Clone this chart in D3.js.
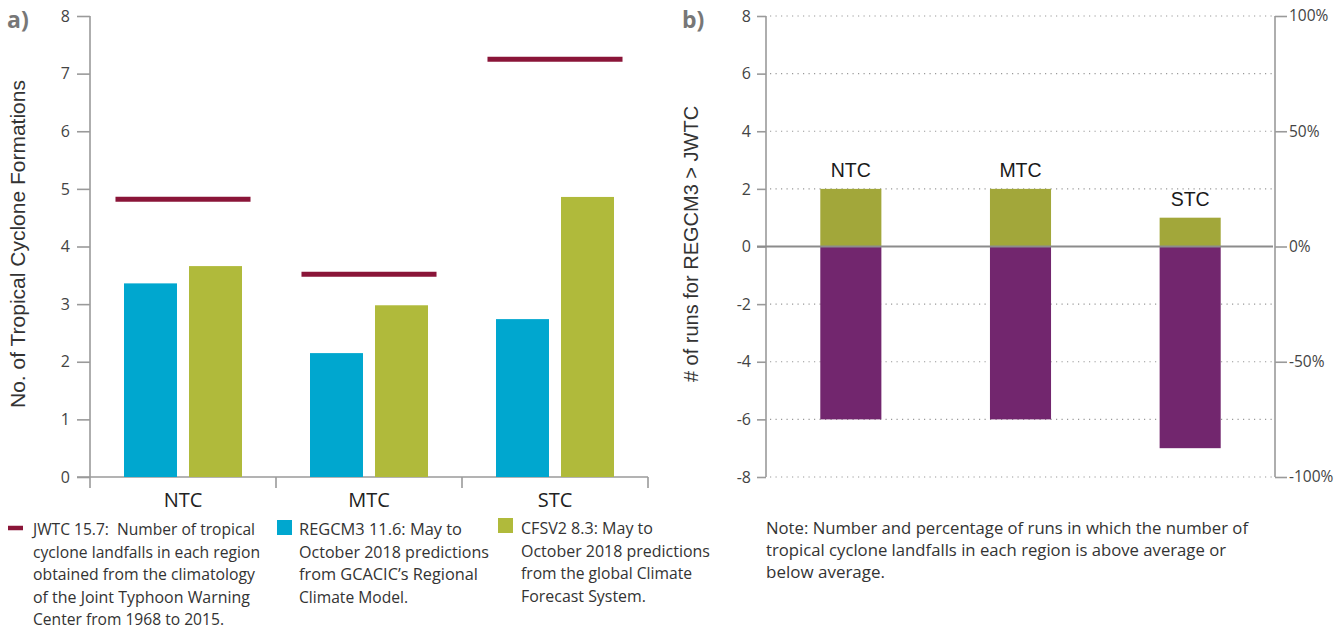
<!DOCTYPE html>
<html><head><meta charset="utf-8">
<script src="https://cdn.jsdelivr.net/npm/d3@7"></script>
<style>html,body{margin:0;padding:0;background:#fff;}svg{display:block;}</style>
</head><body>
<svg id="c" width="1344" height="629"></svg>
<script>
// ---------- DATA ----------
const categories = ["NTC", "MTC", "STC"];
const jwtcValues = [4.82, 3.52, 7.25];
const regcm3Values = [3.36, 2.15, 2.74];
const cfsv2Values = [3.66, 2.98, 4.86];
const yTicksA = [0, 1, 2, 3, 4, 5, 6, 7, 8];

const aboveRuns = [2, 2, 1];
const belowRuns = [-6, -6, -7];
const yTicksB = [-8, -6, -4, -2, 0, 2, 4, 6, 8];
const pctTicks = [-100, -50, 0, 50, 100];

const legendJWTC = ["JWTC 15.7:  Number of tropical", "cyclone landfalls in each region", "obtained from the climatology", "of the Joint Typhoon Warning", "Center from 1968 to 2015."];
const legendREG = ["REGCM3 11.6: May to", "October 2018 predictions", "from GCACIC\u2019s Regional", "Climate Model."];
const legendCFS = ["CFSV2 8.3: May to", "October 2018 predictions", "from the global Climate", "Forecast System."];
const noteLines = ["Note: Number and percentage of runs in which the number of", "tropical cyclone landfalls in each region is above average or", "below average."];

// ---------- STYLE / LAYOUT ----------
const C = {blue:"#00a7cf", green:"#b0ba3b", maroon:"#8a1538", greenB:"#a2a73a", purple:"#72266e", axis:"#9a9a9a", tick:"#444", text:"#333"};
const legendWidths = {
  jwtc:[222,227,222,217,191],
  reg:[163,190,179,109],
  cfs:[132,189,171,125],
  note:[482,460,119]
};

const svg = d3.select("#c");

// ===== Chart a =====
const ya = d3.scaleLinear().domain([0, 8]).range([477, 16]);
const xa = d3.scaleBand().domain(categories).range([90, 648]);
const xs = d3.scaleBand().domain(["REGCM3", "CFSV2"]).range([0, xa.bandwidth()]).paddingInner(0.185).paddingOuter(0.523);

const ga = svg.append("g");
const axA = ga.append("g").attr("transform", "translate(90,0)")
  .call(d3.axisLeft(ya).tickValues(yTicksA).tickSize(13).tickPadding(7).tickFormat(d => String(d)));
axA.select(".domain").remove();
axA.selectAll("line").attr("stroke", C.axis).attr("stroke-width", 1.6);
axA.selectAll("text").attr("fill", C.tick).style("font-family", "Open Sans").style("font-size", "16px");
ga.append("line").attr("x1", 90).attr("x2", 90).attr("y1", ya(8)).attr("y2", ya(0) + 11)
  .attr("stroke", C.axis).attr("stroke-width", 1.6);
ga.append("line").attr("x1", 77).attr("x2", xa.range()[1]).attr("y1", ya(0)).attr("y2", ya(0))
  .attr("stroke", C.axis).attr("stroke-width", 1.6);
ga.selectAll(".bt").data(categories).enter().append("line")
  .attr("x1", d => xa(d) + xa.bandwidth()).attr("x2", d => xa(d) + xa.bandwidth())
  .attr("y1", ya(0)).attr("y2", ya(0) + 11).attr("stroke", C.axis).attr("stroke-width", 1.6);
ga.selectAll(".cl").data(categories).enter().append("text")
  .attr("x", d => xa(d) + xa.bandwidth() / 2).attr("y", 507).attr("text-anchor", "middle")
  .style("font-family", "Open Sans").style("font-size", "20px").attr("fill", "#222").text(d => d);

ga.selectAll(".rb").data(categories).enter().append("rect")
  .attr("x", d => xa(d) + xs("REGCM3")).attr("width", xs.bandwidth())
  .attr("y", (d, i) => ya(regcm3Values[i])).attr("height", (d, i) => ya(0) - ya(regcm3Values[i]))
  .attr("fill", C.blue);
ga.selectAll(".cb").data(categories).enter().append("rect")
  .attr("x", d => xa(d) + xs("CFSV2")).attr("width", xs.bandwidth())
  .attr("y", (d, i) => ya(cfsv2Values[i])).attr("height", (d, i) => ya(0) - ya(cfsv2Values[i]))
  .attr("fill", C.green);
const lineW = xa.bandwidth() * 0.726;
ga.selectAll(".jl").data(categories).enter().append("line")
  .attr("x1", d => xa(d) + (xa.bandwidth() - lineW) / 2).attr("x2", d => xa(d) + (xa.bandwidth() + lineW) / 2)
  .attr("y1", (d, i) => ya(jwtcValues[i])).attr("y2", (d, i) => ya(jwtcValues[i]))
  .attr("stroke", C.maroon).attr("stroke-width", 5);

svg.append("text").attr("transform", "translate(25,244) rotate(-90)").attr("text-anchor", "middle")
  .style("font-family", "Liberation Sans").style("font-size", "21px").attr("fill", "#333")
  .text("No. of Tropical Cyclone Formations");
svg.append("text").attr("x", 7).attr("y", 28).style("font-family", "Open Sans").style("font-weight", "bold")
  .style("font-size", "23px").attr("fill", "#777").text("a)");

function textBlock(x, y, lines, widths, lh) {
  const g = svg.append("g");
  g.selectAll("text").data(lines).enter().append("text")
    .attr("x", x).attr("y", (d, i) => y + i * lh)
    .attr("textLength", (d, i) => widths[i]).attr("lengthAdjust", "spacingAndGlyphs")
    .style("white-space", "pre")
    .style("font-family", "Open Sans").style("font-size", "17px").attr("fill", C.text).text(d => d);
}
svg.append("line").attr("x1", 8).attr("x2", 23).attr("y1", 528).attr("y2", 528).attr("stroke", C.maroon).attr("stroke-width", 4.5);
textBlock(33, 535, legendJWTC, legendWidths.jwtc, 22.6);
svg.append("rect").attr("x", 277).attr("y", 520).attr("width", 15).attr("height", 15).attr("fill", C.blue);
textBlock(299, 535, legendREG, legendWidths.reg, 22.6);
svg.append("rect").attr("x", 498).attr("y", 518).attr("width", 15).attr("height", 15).attr("fill", C.green);
textBlock(521, 534, legendCFS, legendWidths.cfs, 22.6);

// ===== Chart b =====
const yb = d3.scaleLinear().domain([-8, 8]).range([477, 16]);
const yp = d3.scaleLinear().domain([-100, 100]).range([477, 16]);
const xb = d3.scaleBand().domain(categories).range([766, 1275]).paddingInner(0.64).paddingOuter(0.32);
const gb = svg.append("g");

gb.selectAll(".grid").data(yTicksB.filter(d => d !== 0)).enter().append("line")
  .attr("x1", 770).attr("x2", 1272).attr("y1", d => yb(d)).attr("y2", d => yb(d))
  .attr("stroke", "#999").attr("stroke-width", 1.2).attr("stroke-dasharray", "1.2,4.3");

gb.selectAll(".ab").data(categories).enter().append("rect")
  .attr("x", d => xb(d)).attr("width", xb.bandwidth())
  .attr("y", (d, i) => yb(aboveRuns[i])).attr("height", (d, i) => yb(0) - yb(aboveRuns[i]))
  .attr("fill", C.greenB);
gb.selectAll(".bb").data(categories).enter().append("rect")
  .attr("x", d => xb(d)).attr("width", xb.bandwidth())
  .attr("y", yb(0)).attr("height", (d, i) => yb(belowRuns[i]) - yb(0))
  .attr("fill", C.purple);
gb.selectAll(".bl").data(categories).enter().append("text")
  .attr("x", d => xb(d) + xb.bandwidth() / 2).attr("y", (d, i) => yb(aboveRuns[i]) - 12)
  .attr("text-anchor", "middle").style("font-family", "Liberation Sans").style("font-size", "19.5px")
  .attr("fill", "#1a1a1a").text(d => d);

const axB = gb.append("g").attr("transform", "translate(766,0)")
  .call(d3.axisLeft(yb).tickValues(yTicksB).tickSize(9).tickPadding(6).tickFormat(d => String(d)));
axB.select(".domain").remove();
axB.selectAll("line").attr("stroke", C.axis).attr("stroke-width", 1.6);
axB.selectAll("text").attr("fill", C.tick).style("font-family", "Open Sans").style("font-size", "16px");
gb.append("line").attr("x1", 766).attr("x2", 766).attr("y1", yb(8)).attr("y2", yb(-8))
  .attr("stroke", C.axis).attr("stroke-width", 1.6);
const axP = gb.append("g").attr("transform", "translate(1275,0)")
  .call(d3.axisRight(yp).tickValues(pctTicks).tickSize(12).tickPadding(2).tickFormat(d => String(d) + "%"));
axP.select(".domain").remove();
axP.selectAll("line").attr("stroke", C.axis).attr("stroke-width", 1.6);
axP.selectAll("text").attr("fill", C.tick).style("font-family", "Open Sans").style("font-size", "15.5px");
gb.append("line").attr("x1", 1275).attr("x2", 1275).attr("y1", yp(100)).attr("y2", yp(-100))
  .attr("stroke", C.axis).attr("stroke-width", 1.6);
gb.append("line").attr("x1", 757).attr("x2", 1273).attr("y1", yb(0)).attr("y2", yb(0))
  .attr("stroke", "#8c8c8c").attr("stroke-width", 2);

svg.append("text").attr("transform", "translate(698,244) rotate(-90)").attr("text-anchor", "middle")
  .style("font-family", "Liberation Sans").style("font-size", "20px").attr("fill", "#333")
  .text("# of runs for REGCM3 > JWTC");
svg.append("text").attr("x", 682).attr("y", 28).style("font-family", "Open Sans").style("font-weight", "bold")
  .style("font-size", "23px").attr("fill", "#777").text("b)");

textBlock(766, 534, noteLines, legendWidths.note, 22);
</script>
</body></html>
